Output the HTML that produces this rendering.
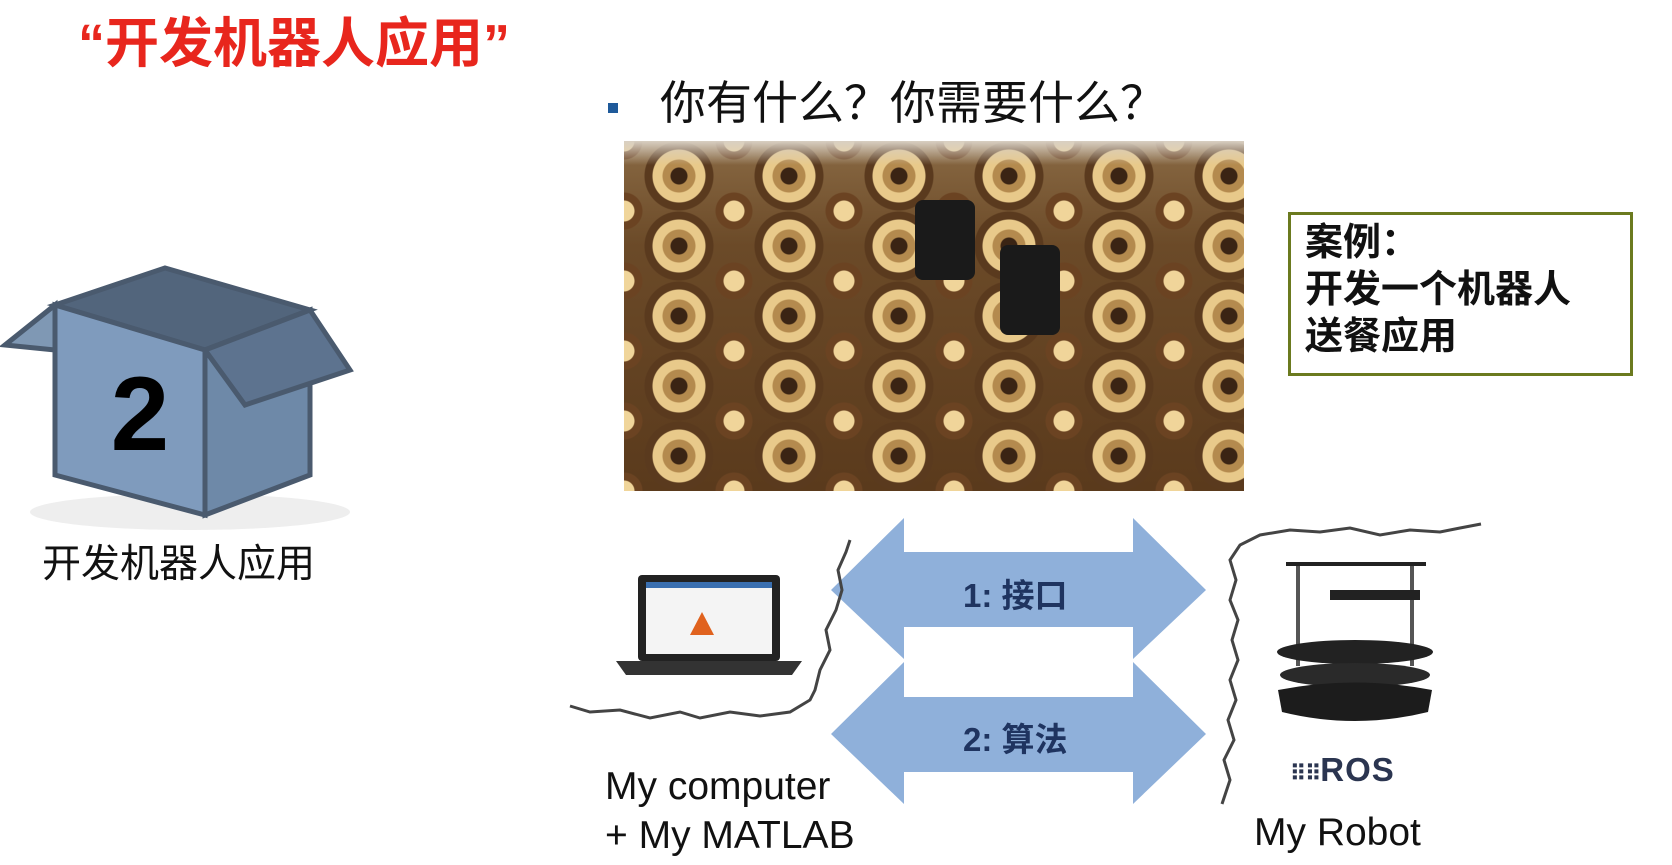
<!DOCTYPE html>
<html><head><meta charset="utf-8"><style>
body{margin:0;width:1672px;height:865px;background:#fff;position:relative;overflow:hidden;font-family:"Liberation Sans","Noto Sans CJK SC",sans-serif}
.a{position:absolute;white-space:nowrap}
</style></head><body>
<div class="a" style="left:78px;top:12px;font-size:54px;font-weight:bold;color:#e8261d;line-height:64px">“开发机器人应用”</div>
<div class="a" style="left:608px;top:103px;width:10px;height:10px;background:#1f5a9a"></div>
<div class="a" style="left:660px;top:74px;font-size:46px;color:#111;line-height:58px">你有什么？你需要什么？</div>
<div class="a" style="left:624px;top:141px;width:620px;height:350px;background:
radial-gradient(circle at 50% 50%,#3a2414 0 8px,#b48a4e 9px 16px,#e8c98a 17px 26px,#5a3a1e 27px 34px,transparent 35px) 0 0/110px 70px,
radial-gradient(circle at 50% 50%,#f0d59a 0 10px,#6b4322 11px 18px,transparent 19px) 55px 35px/110px 70px,
linear-gradient(#8a6a44,#6b4a28 30%,#5a3a1c);"></div>
<div class="a" style="left:624px;top:141px;width:620px;height:24px;background:linear-gradient(#d8cfc2,rgba(216,207,194,0))"></div>
<div class="a" style="left:915px;top:200px;width:60px;height:80px;background:#1a1a1a;border-radius:8px"></div>
<div class="a" style="left:1000px;top:245px;width:60px;height:90px;background:#1a1a1a;border-radius:8px"></div>
<div class="a" style="left:1288px;top:212px;width:339px;height:158px;border:3px solid #6b7a1f;background:#fff"></div>
<div class="a" style="left:1305px;top:220px;font-size:38px;font-weight:bold;line-height:47px;color:#111">案例：<br>开发一个机器人<br>送餐应用</div>
<svg class="a" style="left:0;top:250px" width="360" height="290">
<ellipse cx="190" cy="262" rx="160" ry="18" fill="#eee"/>
<polygon points="55,55 5,95 55,100" fill="#7f98b4" stroke="#4a5a6e" stroke-width="5"/>
<polygon points="55,55 165,18 310,60 205,100" fill="#52657c" stroke="#4a5a6e" stroke-width="5"/>
<polygon points="55,55 205,100 205,265 55,225" fill="#7f9bbd" stroke="#4a5a6e" stroke-width="5"/>
<polygon points="205,100 310,60 310,225 205,265" fill="#6e89a8" stroke="#4a5a6e" stroke-width="5"/>
<polygon points="205,100 310,60 350,120 245,155" fill="#5d738f" stroke="#4a5a6e" stroke-width="5"/>
<text x="140" y="200" font-family="Liberation Sans" font-weight="bold" font-size="105" text-anchor="middle" fill="#000">2</text>
</svg>
<div class="a" style="left:42px;top:541px;font-size:39px;color:#111;line-height:48px">开发机器人应用</div>
<svg class="a" style="left:0;top:0" width="1672" height="865">
<polygon points="831,590 904,518 904,552 1133,552 1133,518 1206,590 1133,659 1133,627 904,627 904,659" fill="#8fb0da"/>
<polygon points="831,734 904,662 904,697 1133,697 1133,662 1206,734 1133,804 1133,772 904,772 904,804" fill="#8fb0da"/>
<polyline points="570,706 590,712 620,710 650,718 680,712 700,718 730,712 760,716 790,712 810,700 815,690 820,670 830,650 826,630 836,610 842,590 838,570 846,552 850,540" fill="none" stroke="#444" stroke-width="3"/>
<polyline points="1222,804 1230,780 1224,760 1234,740 1228,720 1236,700 1230,680 1238,660 1232,640 1238,620 1230,600 1236,580 1230,560 1240,545 1260,535 1290,530 1320,532 1350,528 1380,535 1410,530 1440,532 1460,528 1481,524" fill="none" stroke="#444" stroke-width="3"/>
<rect x="638" y="575" width="142" height="86" rx="4" fill="#222"/>
<rect x="646" y="582" width="126" height="72" fill="#f4f4f4"/>
<rect x="646" y="582" width="126" height="6" fill="#3a6fb0"/>
<polygon points="690,635 702,612 714,635" fill="#e0621e"/>
<polygon points="616,661 802,661 792,675 626,675" fill="#333"/>
<rect x="1286" y="562" width="140" height="4" fill="#222"/>
<rect x="1296" y="566" width="4" height="100" fill="#555"/><rect x="1410" y="566" width="4" height="100" fill="#555"/>
<rect x="1330" y="590" width="90" height="10" fill="#222"/>
<ellipse cx="1355" cy="652" rx="78" ry="12" fill="#222"/>
<ellipse cx="1355" cy="675" rx="75" ry="12" fill="#2a2a2a"/>
<path d="M1278 690 Q1355 675 1432 690 L1428 712 Q1355 730 1282 712Z" fill="#1c1c1c"/>
</svg>
<div class="a" style="left:963px;top:569px;font-size:33px;font-weight:bold;color:#1f3460">1: 接口</div>
<div class="a" style="left:963px;top:713px;font-size:33px;font-weight:bold;color:#1f3460">2: 算法</div>
<div class="a" style="left:1290px;top:751px;font-size:33px;font-weight:bold;color:#2b3550;letter-spacing:1px"><span style="font-size:22px;letter-spacing:-1px">⠿⠿</span>ROS</div>
<div class="a" style="left:605px;top:762px;font-size:39px;color:#111;line-height:49px">My computer<br>+ My MATLAB</div>
<div class="a" style="left:1254px;top:811px;font-size:39px;color:#111">My Robot</div>
</body></html>
